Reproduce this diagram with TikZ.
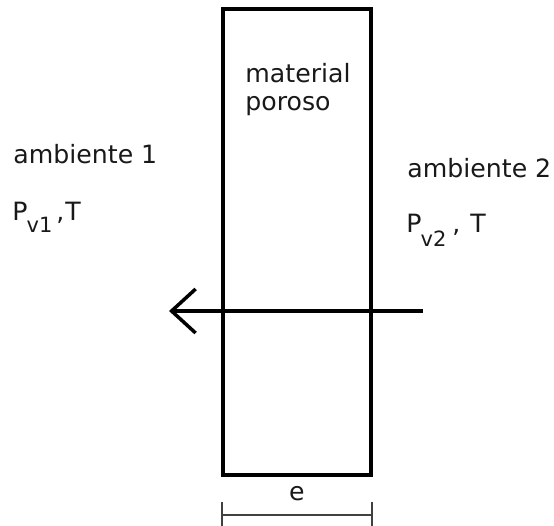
\documentclass[tikz,border=0pt]{standalone}
\usepackage{fontspec}
\setmainfont{DejaVu Sans}
\usetikzlibrary{arrows.meta}

\newcommand{\subv}[2]{\raisebox{-#1}{\fontsize{10.5}{12}\selectfont #2}}

\begin{document}
\begin{tikzpicture}[x=0.5pt,y=-0.5pt,
  txt/.style={anchor=base west,inner sep=0pt,text=black!90,font=\fontsize{12.6}{15}\selectfont}]

\useasboundingbox (0,0) rectangle (554,526);

% porous wall
\node[draw,line width=2.4pt,minimum width=74pt,minimum height=233pt,inner sep=0pt] (poro) at (297,242) {};
\node[txt] (mat) at (245,82) {material};
\node[txt] (por) at (245,110) {poroso};

% both sides
\node[txt] (amb1) at (13,163) {ambiente 1};
\node[txt] (p1) at (12,220) {P\kern-0.5pt\subv{6pt}{v1}\kern2pt,\kern0.5ptT};
\node[txt] (amb2) at (407,177) {ambiente 2};
\node[txt] (p2) at (406,232) {P\kern-0.5pt\subv{7pt}{v2}\kern3pt,\kern5ptT};

% vapour flux
\coordinate (fin) at (423,311);
\coordinate (fout) at (169,311);
\draw[-{Straight Barb[length=12pt,width=22pt]},line width=1.75pt] (fin)--(fout);

% thickness
\coordinate (eleft) at (poro.south west |- 0,515);
\coordinate (eright) at (poro.south east |- 0,515);
\draw[{Bar[width=13pt]}-{Bar[width=13pt]},line width=1pt,color=black!75] (eleft)--(eright);
\node[txt,anchor=base] (e) at (297,500) {e};

\end{tikzpicture}
\end{document}
